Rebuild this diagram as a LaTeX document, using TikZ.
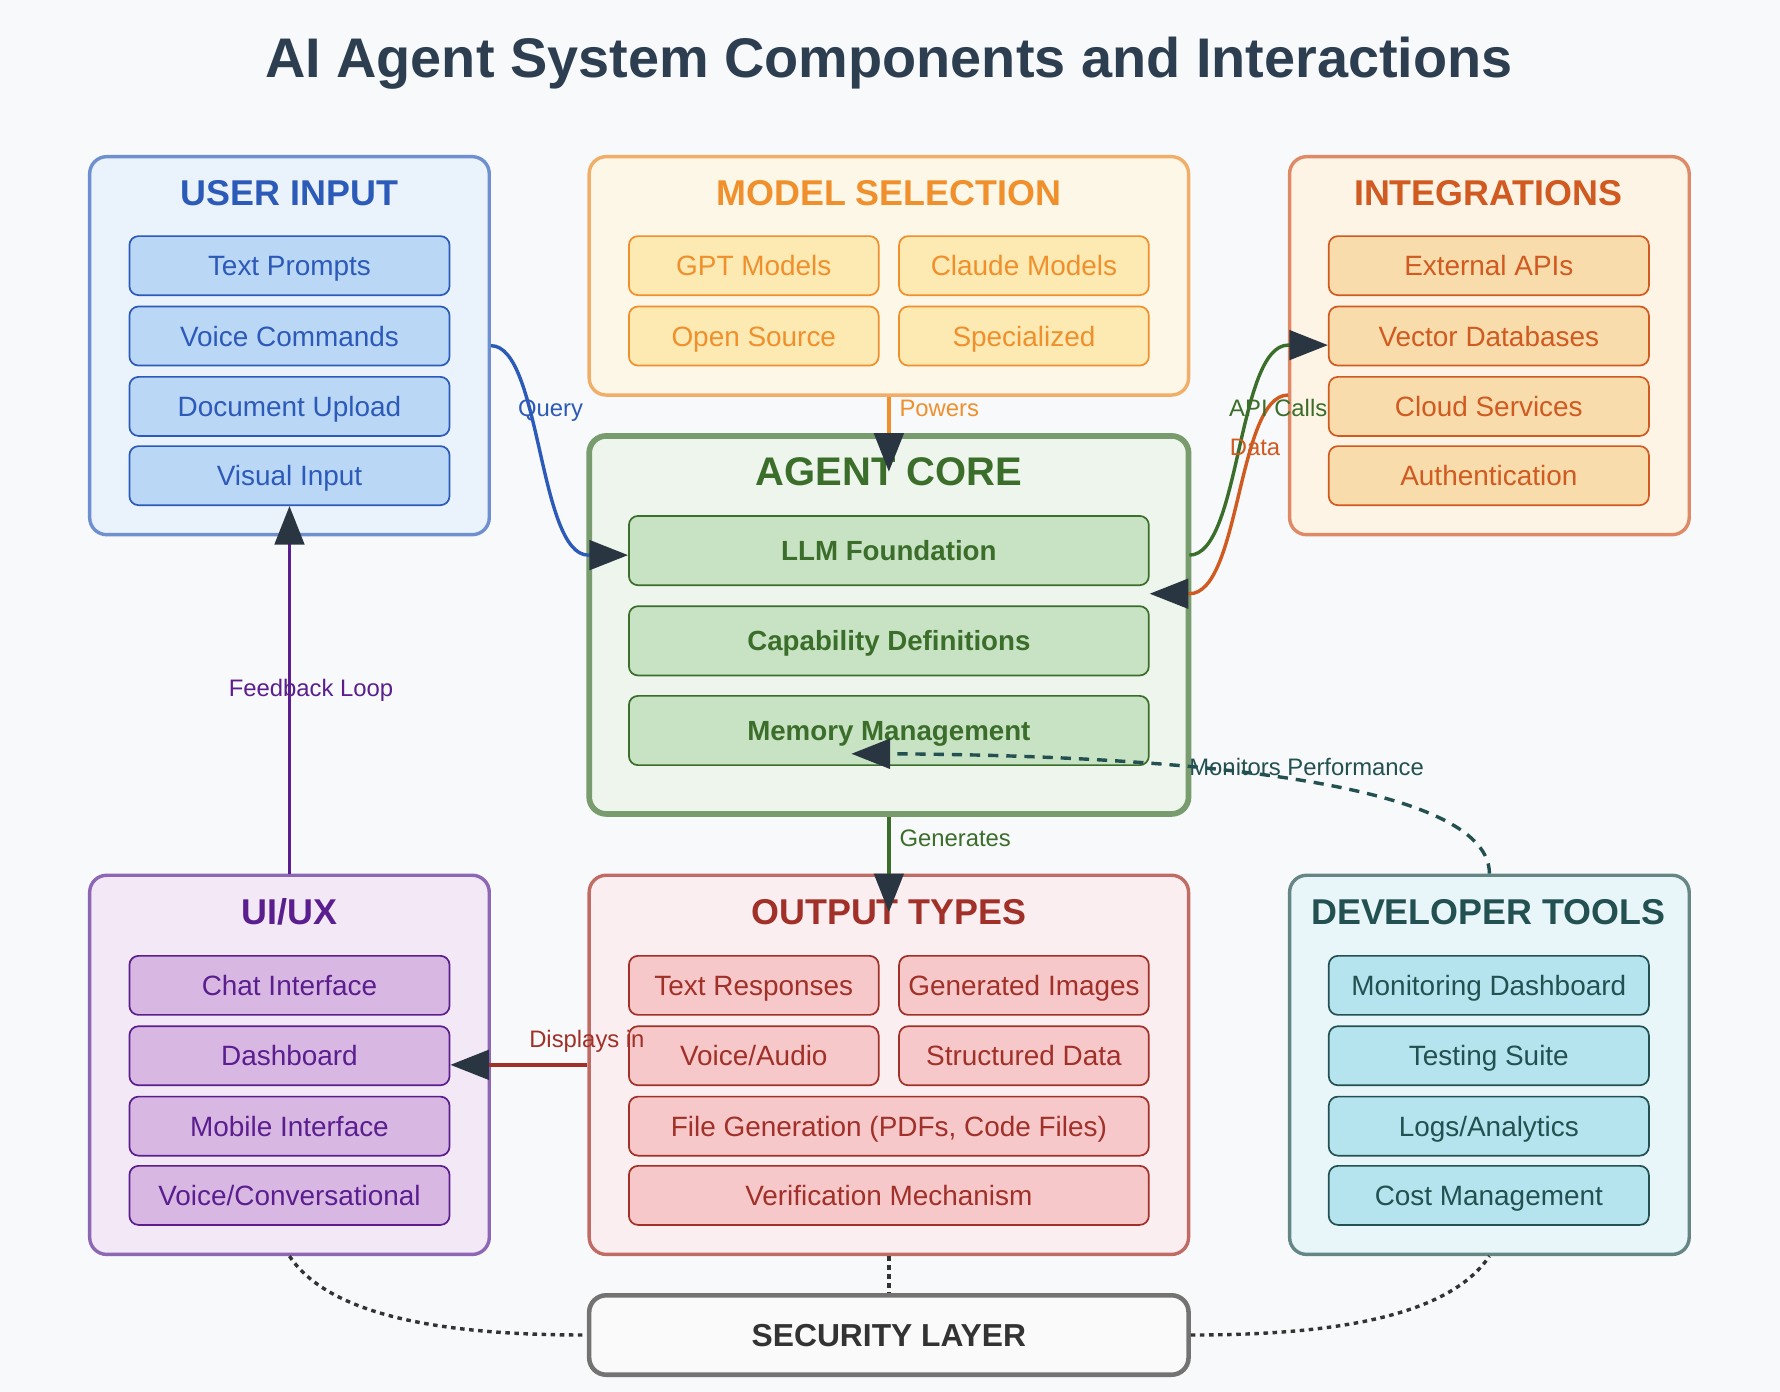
\documentclass[tikz,border=0pt]{standalone}
\usepackage{fontspec}
\setmainfont{Liberation Sans}
\usetikzlibrary{arrows.meta,calc}
\definecolor{bgc}{HTML}{F8F9FA}
\definecolor{titleC}{HTML}{2C3E50}
\definecolor{arrowc}{HTML}{2A3542}
% user
\definecolor{userT}{HTML}{2C5AB8}\definecolor{userF}{HTML}{EAF3FC}\definecolor{userI}{HTML}{BBD7F6}\definecolor{userB}{HTML}{6E8FD0}
% model
\definecolor{modT}{HTML}{F0902C}\definecolor{modF}{HTML}{FCF7E7}\definecolor{modI}{HTML}{FDE9B2}\definecolor{modB}{HTML}{F1AE68}
% integrations
\definecolor{intT}{HTML}{D05A20}\definecolor{intF}{HTML}{FDF4E6}\definecolor{intI}{HTML}{F8DCAC}\definecolor{intB}{HTML}{DF8A66}
% core
\definecolor{coreT}{HTML}{3B6E2A}\definecolor{coreF}{HTML}{EDF5EC}\definecolor{coreI}{HTML}{C8E2C4}\definecolor{coreB}{HTML}{789C6E}
% ui
\definecolor{uiT}{HTML}{5A1E8E}\definecolor{uiF}{HTML}{F2E8F6}\definecolor{uiI}{HTML}{D8B8E2}\definecolor{uiB}{HTML}{8E66B6}
% output
\definecolor{outT}{HTML}{A03028}\definecolor{outF}{HTML}{FBEEF0}\definecolor{outI}{HTML}{F6C8CA}\definecolor{outB}{HTML}{C06C64}
% dev
\definecolor{devT}{HTML}{235050}\definecolor{devF}{HTML}{E8F6FA}\definecolor{devI}{HTML}{B6E4EE}\definecolor{devB}{HTML}{668686}
% security
\definecolor{secT}{HTML}{333333}\definecolor{secF}{HTML}{FAFAFA}\definecolor{secB}{HTML}{737373}
\definecolor{linkG}{HTML}{3B6E2A}
\begin{document}
\begin{tikzpicture}[x=0.5pt,y=-0.5pt,
  txt/.style={text depth=0pt,inner sep=0pt},
  panel/.style={rounded corners=7.5pt,line width=1.5pt,inner sep=0pt,minimum width=176pt,minimum height=166.5pt},
  widepanel/.style={panel,minimum width=264pt},
  item/.style={rounded corners=4pt,line width=0.75pt,inner sep=0pt,minimum width=141pt,minimum height=26pt,font=\fontsize{12.3}{14}\selectfont,text height=8.8pt,text depth=0pt},
  halfitem/.style={item,minimum width=110pt},
  fullitem/.style={item,minimum width=229pt},
  coreitem/.style={item,minimum width=229pt,minimum height=30.5pt,font=\fontsize{12.2}{14}\selectfont\bfseries},
  ptitle/.style={txt,font=\fontsize{15.8}{18}\selectfont\bfseries,text height=11.3pt},
  lbl/.style={txt,font=\fontsize{10.5}{12}\selectfont,text height=7.5pt},
  conn/.style={line width=1.5pt},
  arr/.style={-{Triangle[length=17pt,width=13pt,color=arrowc]}},
  secline/.style={line width=1.5pt,color=secT,dash pattern=on 2pt off 2pt},
  monline/.style={line width=1.5pt,color=devT,dash pattern=on 4.5pt off 3.5pt},
]
\fill[bgc] (0,0) rectangle (1568,1226);
\useasboundingbox (0,0) rectangle (1568,1226);

% Title
\node[txt,font=\fontsize{24.6}{28}\selectfont\bfseries,text=titleC,text height=17.6pt] (title) at (783,51) {AI Agent System Components and Interactions};

% Panels
\node[panel,draw=userB,fill=userF] (user) at (255,304.5) {};
\node[widepanel,draw=modB,fill=modF,minimum height=105pt] (model) at (783,243) {};
\node[panel,draw=intB,fill=intF] (integ) at (1312,304.5) {};
\node[widepanel,draw=coreB,fill=coreF,line width=2.5pt] (core) at (783,550.5) {};
\node[panel,draw=uiB,fill=uiF,minimum height=167pt] (ui) at (255,938) {};
\node[widepanel,draw=outB,fill=outF,minimum height=167pt] (out) at (783,938) {};
\node[panel,draw=devB,fill=devF,minimum height=167pt] (dev) at (1312,938) {};
\node[widepanel,draw=secB,fill=secF,minimum height=35pt,line width=2pt,text=secT,font=\fontsize{14}{16}\selectfont\bfseries,text height=10pt,text depth=0pt] (sec) at (783,1176) {SECURITY LAYER};

% Panel titles
\node[ptitle,text=userT] (userTitle) at (255,170) {USER INPUT};
\node[ptitle,text=modT] (modTitle) at (783,170) {MODEL SELECTION};
\node[ptitle,text=intT] (intTitle) at (1311,170) {INTEGRATIONS};
\node[txt,font=\fontsize{17.6}{20}\selectfont\bfseries,text=coreT,text height=12.6pt] (coreTitle) at (783,415) {AGENT CORE};
\node[ptitle,text=uiT] (uiTitle) at (255,803) {UI/UX};
\node[ptitle,text=outT] (outTitle) at (783,803) {OUTPUT TYPES};
\node[ptitle,text=devT] (devTitle) at (1311,803) {DEVELOPER TOOLS};

% User input items
\begin{scope}[every node/.append style={item,draw=userT,fill=userI,text=userT}]
\node (prompts) at (255,234) {Text Prompts};
\node (voice) at (255,296) {Voice Commands};
\node (docup) at (255,358) {Document Upload};
\node (visual) at (255,419) {Visual Input};
\end{scope}
% Model items
\begin{scope}[every node/.append style={halfitem,draw=modT,fill=modI,text=modT}]
\node (gpt) at (664,234) {GPT Models};
\node (claude) at (902,234) {Claude Models};
\node (opensrc) at (664,296) {Open Source};
\node (special) at (902,296) {Specialized};
\end{scope}
% Integration items
\begin{scope}[every node/.append style={item,draw=intT,fill=intI,text=intT}]
\node (extapi) at (1311.5,234) {External APIs};
\node (vecdb) at (1311.5,296) {Vector Databases};
\node (cloud) at (1311.5,358) {Cloud Services};
\node (auth) at (1311.5,419) {Authentication};
\end{scope}
% Core items
\begin{scope}[every node/.append style={coreitem,draw=coreT,fill=coreI,text=coreT}]
\node (llm) at (783,485) {LLM Foundation};
\node (capab) at (783,564.5) {Capability Definitions};
\node (mem) at (783,643.5) {Memory Management};
\end{scope}
% UI items
\begin{scope}[every node/.append style={item,draw=uiT,fill=uiI,text=uiT}]
\node (chat) at (255,868) {Chat Interface};
\node (dash) at (255,930) {Dashboard};
\node (mobile) at (255,992) {Mobile Interface};
\node (conv) at (255,1053) {Voice/Conversational};
\end{scope}
% Output items
\begin{scope}[every node/.append style={halfitem,draw=outT,fill=outI,text=outT}]
\node (textresp) at (664,868) {Text Responses};
\node (genimg) at (902,868) {Generated Images};
\node (audio) at (664,930) {Voice/Audio};
\node (structd) at (902,930) {Structured Data};
\node[fullitem] (filegen) at (783,992) {File Generation (PDFs, Code Files)};
\node[fullitem] (verif) at (783,1053) {Verification Mechanism};
\end{scope}
% Dev items
\begin{scope}[every node/.append style={item,draw=devT,fill=devI,text=devT}]
\node (mondash) at (1311.5,868) {Monitoring Dashboard};
\node (testing) at (1311.5,930) {Testing Suite};
\node (logs) at (1311.5,992) {Logs/Analytics};
\node (cost) at (1311.5,1053) {Cost Management};
\end{scope}

% Connectors
% Query
\draw[conn,userT,arr] (user.east) .. controls +(44,0) and +(-44,0) .. ($(llm.west)+(-35,4)$) -- ($(llm.west)+(0,4)$);
\node[lbl,text=userT] (lquery) at (485,359) {Query};
% Powers
\draw[conn,modT,arr] (model.south) -- ($(core.north)+(0,34)$);
\node[lbl,text=modT,anchor=west] (lpowers) at (792,359) {Powers};
% API calls
\draw[conn,linkG,arr] ($(llm.east)+(35,4)$) .. controls +(45,0) and +(-45,0) .. ($(vecdb.west)+(-35,8)$) -- ($(vecdb.west)+(0,8)$);
% Data
\draw[conn,intT,arr] ($(cloud.west)+(-35,-10)$) .. controls +(-45,0) and +(45,0) .. ($(llm.east)+(35,38)$) -- ($(llm.east)+(0,38)$);
\node[lbl,text=linkG] (lapi) at (1126,359) {API Calls};
\node[lbl,text=intT,anchor=west] (ldata) at (1083,394) {Data};
% Feedback loop
\draw[conn,uiT,arr] (ui.north) -- (visual.south);
\node[lbl,text=uiT] (lfeed) at (274,606) {Feedback Loop};
% Generates
\draw[conn,coreT,arr] (core.south) -- ($(out.north)+(0,34)$);
\node[lbl,text=coreT,anchor=west] (lgen) at (792,738) {Generates};
% Displays in
\draw[conn,outT,arr] (out.west) -- ($(dash.east)+(0,8)$);
\node[lbl,text=outT] (ldisp) at (517,915) {Displays in};
% Monitors performance
\coordinate (memtip) at ($(mem.center)+(-33,20.5)$);
\draw[monline,arr] (dev.north) .. controls +(0,-71) and +(315,2) .. ($(memtip)+(35,0)$) -- (memtip);
\node[lbl,text=devT] (lmon) at (1151,676) {Monitors Performance};
% Security links
\draw[secline] (ui.south) .. controls +(40,60) and +(-100,0) .. (sec.west);
\draw[secline] (out.south) -- (sec.north);
\draw[secline] (sec.east) .. controls +(100,0) and +(-40,60) .. (dev.south);
\end{tikzpicture}
\end{document}
